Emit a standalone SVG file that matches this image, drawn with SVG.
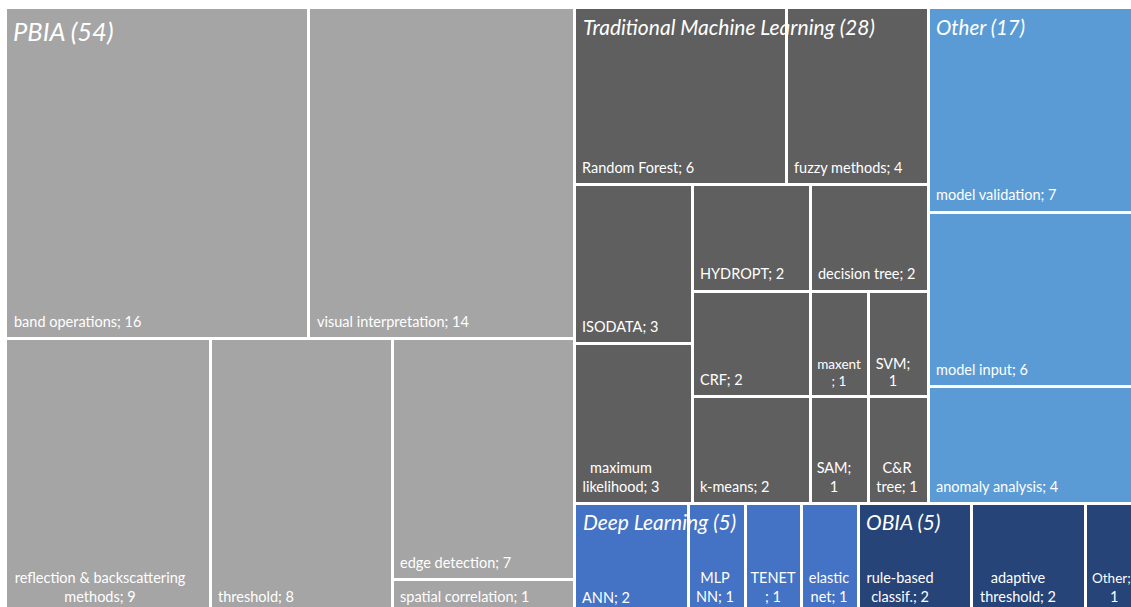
<svg xmlns="http://www.w3.org/2000/svg" width="1131" height="607" viewBox="0 0 1131 607">
<style>
.pb{fill:#A5A5A5}.ml{fill:#5F5F5F}.ot{fill:#5B9BD5}.dl{fill:#4472C4}.ob{fill:#264478}
text{font-family:Lato,"Open Sans","Liberation Sans",sans-serif;fill:#FFFFFF}
.lb{font-size:14.5px}
.sm{font-size:13.5px}
.c{text-anchor:middle}
.tt{font-size:21px;font-style:italic}
.gap{fill:#FFFFFF}
</style>
<rect width="1131" height="607" fill="#FFFFFF"/>
<g id="pbia">
<g id="band-operations"><rect class="pb" x="7" y="9" width="300" height="328"/><text class="lb" x="14" y="327">band operations; 16</text></g>
<g id="visual-interpretation"><rect class="pb" x="310" y="9" width="263" height="328"/><text class="lb" x="317" y="327">visual interpretation; 14</text></g>
<g id="reflection"><rect class="pb" x="7" y="340" width="202" height="270"/><text class="lb c" x="100" y="583">reflection &amp; backscattering</text><text class="lb c" x="100" y="602">methods; 9</text></g>
<g id="threshold"><rect class="pb" x="212" y="340" width="179" height="270"/><text class="lb" x="218" y="602">threshold; 8</text></g>
<g id="edge-detection"><rect class="pb" x="394" y="340" width="179" height="238"/><text class="lb" x="400" y="568">edge detection; 7</text></g>
<g id="spatial-correlation"><rect class="pb" x="394" y="581" width="179" height="30"/><text class="lb" x="400" y="602">spatial correlation; 1</text></g>
<text class="tt" x="13" y="41" style="font-size:25.5px">PBIA (54)</text>
</g>
<g id="tml">
<g id="random-forest"><rect class="ml" x="576" y="9" width="209" height="174"/><text class="lb" x="582" y="173">Random Forest; 6</text></g>
<g id="fuzzy-methods"><rect class="ml" x="788" y="9" width="139" height="174"/><text class="lb" x="794" y="173">fuzzy methods; 4</text></g>
<g id="isodata"><rect class="ml" x="576" y="186" width="115" height="156"/><text class="lb" x="582" y="332">ISODATA; 3</text></g>
<g id="maximum-likelihood"><rect class="ml" x="576" y="345" width="115" height="157"/><text class="lb c" x="621" y="473">maximum</text><text class="lb c" x="621" y="492">likelihood; 3</text></g>
<g id="hydropt"><rect class="ml" x="694" y="186" width="115" height="104"/><text class="lb" x="700" y="279">HYDROPT; 2</text></g>
<g id="decision-tree"><rect class="ml" x="812" y="186" width="115" height="104"/><text class="lb" x="818" y="279">decision tree; 2</text></g>
<g id="crf"><rect class="ml" x="694" y="293" width="115" height="102"/><text class="lb" x="700" y="385">CRF; 2</text></g>
<g id="k-means"><rect class="ml" x="694" y="398" width="115" height="104"/><text class="lb" x="700" y="492">k-means; 2</text></g>
<g id="maxent"><rect class="ml" x="812" y="293" width="55" height="102"/><text class="sm c" x="839" y="369">maxent</text><text class="sm c" x="839" y="386">; 1</text></g>
<g id="svm"><rect class="ml" x="870" y="293" width="57" height="102"/><text class="lb c" x="893" y="369">SVM;</text><text class="lb c" x="893" y="386">1</text></g>
<g id="sam"><rect class="ml" x="812" y="398" width="55" height="104"/><text class="lb c" x="834" y="473">SAM;</text><text class="lb c" x="834" y="492">1</text></g>
<g id="cr-tree"><rect class="ml" x="870" y="398" width="57" height="104"/><text class="lb c" x="897" y="473">C&amp;R</text><text class="lb c" x="897" y="492">tree; 1</text></g>
<text class="tt" x="583" y="35">Traditional Machine Learning (28)</text>
<rect class="gap" x="785" y="9" width="3" height="40"/>
</g>
<g id="other">
<g id="model-validation"><rect class="ot" x="930" y="9" width="201" height="202"/><text class="lb" x="936" y="200">model validation; 7</text></g>
<g id="model-input"><rect class="ot" x="930" y="214" width="201" height="171"/><text class="lb" x="936" y="375">model input; 6</text></g>
<g id="anomaly-analysis"><rect class="ot" x="930" y="388" width="201" height="114"/><text class="lb" x="936" y="492">anomaly analysis; 4</text></g>
<text class="tt" x="936" y="35" style="font-size:20.5px">Other (17)</text>
</g>
<g id="deep-learning">
<g id="ann"><rect class="dl" x="576" y="505" width="111" height="105"/><text class="lb" x="582" y="603">ANN; 2</text></g>
<g id="mlp-nn"><rect class="dl" x="690" y="505" width="54" height="105"/><text class="lb c" x="715" y="583">MLP</text><text class="lb c" x="715" y="602">NN; 1</text></g>
<g id="tenet"><rect class="dl" x="747" y="505" width="53" height="105"/><text class="lb c" x="773" y="583">TENET</text><text class="lb c" x="773" y="602">; 1</text></g>
<g id="elastic-net"><rect class="dl" x="803" y="505" width="54" height="105"/><text class="lb c" x="829" y="583">elastic</text><text class="lb c" x="829" y="602">net; 1</text></g>
<text class="tt" x="583" y="530">Deep Learning (5)</text>
<rect class="gap" x="687" y="505" width="3" height="35"/>
</g>
<g id="obia">
<g id="rule-based"><rect class="ob" x="860" y="505" width="110" height="105"/><text class="lb c" x="900" y="583">rule-based</text><text class="lb c" x="900" y="602">classif.; 2</text></g>
<g id="adaptive-threshold"><rect class="ob" x="973" y="505" width="111" height="105"/><text class="lb c" x="1018" y="583">adaptive</text><text class="lb c" x="1018" y="602">threshold; 2</text></g>
<g id="obia-other"><rect class="ob" x="1087" y="505" width="50" height="105"/><text class="sm" x="1092" y="583">Other;</text><text class="lb" x="1110" y="602">1</text></g>
<text class="tt" x="866" y="530">OBIA (5)</text>
</g>
</svg>
